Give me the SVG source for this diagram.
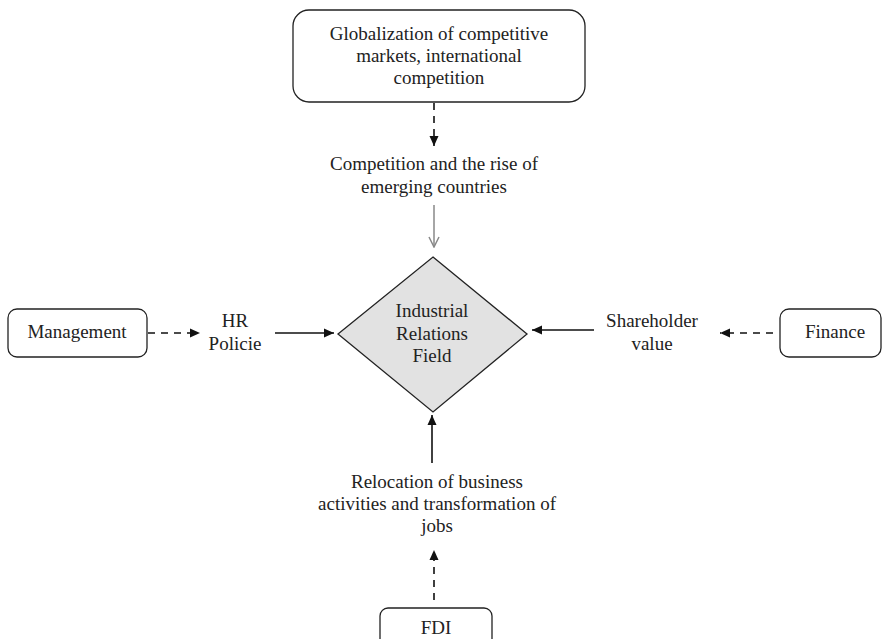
<svg xmlns="http://www.w3.org/2000/svg" width="884" height="639" viewBox="0 0 884 639">
<style>
text{font-family:"Liberation Serif","Times New Roman",serif;font-size:19px;fill:#222;text-anchor:middle}
.box{fill:#fff;stroke:#222;stroke-width:1.3}
.solid{stroke:#111;stroke-width:1.6;fill:none}
.dash{stroke:#111;stroke-width:1.6;fill:none;stroke-dasharray:7,6}
.gray{stroke:#888;stroke-width:1.5;fill:none}
</style>
<defs>
<marker id="ah" viewBox="0 0 10 10" refX="10" refY="5" markerWidth="10" markerHeight="10" markerUnits="userSpaceOnUse" orient="auto">
<path d="M0,0.5 L10,5 L0,9.5 Z" fill="#111"/>
</marker>
<marker id="av" viewBox="0 0 12 12" refX="11" refY="6" markerWidth="12" markerHeight="12" markerUnits="userSpaceOnUse" orient="auto">
<path d="M1,1 L11,6 L1,11" fill="none" stroke="#888" stroke-width="1.5"/>
</marker>
</defs>
<g id="globalization">
<rect class="box" x="293" y="10" width="292" height="92" rx="16"/>
<text x="439" y="40">Globalization of competitive</text>
<text x="439" y="62">markets, international</text>
<text x="439" y="84">competition</text>
</g>
<g id="competition">
<text x="434" y="170">Competition and the rise of</text>
<text x="434" y="193">emerging countries</text>
</g>
<g id="irfield">
<polygon points="433,257 527,334 433,412 338,334" fill="#e2e2e2" stroke="#222" stroke-width="1.3"/>
<text x="432" y="317">Industrial</text>
<text x="432" y="340">Relations</text>
<text x="432" y="362">Field</text>
</g>
<g id="management">
<rect class="box" x="8" y="309" width="139" height="48" rx="9"/>
<text x="77" y="338">Management</text>
</g>
<g id="hrpolicie">
<text x="235" y="327">HR</text>
<text x="235" y="350">Policie</text>
</g>
<g id="shareholder">
<text x="652" y="327">Shareholder</text>
<text x="652" y="350">value</text>
</g>
<g id="finance">
<rect class="box" x="780" y="309" width="101" height="48" rx="9"/>
<text x="835" y="338">Finance</text>
</g>
<g id="relocation">
<text x="437" y="488">Relocation of business</text>
<text x="437" y="510">activities and transformation of</text>
<text x="437" y="532">jobs</text>
</g>
<g id="fdi">
<rect class="box" x="380" y="608" width="112" height="40" rx="8"/>
<text x="436" y="634">FDI</text>
</g>
<g id="connectors">
<line class="dash" x1="434" y1="103" x2="434" y2="146" marker-end="url(#ah)"/>
<line class="gray" x1="434" y1="205" x2="434" y2="247" marker-end="url(#av)"/>
<line class="dash" x1="148" y1="333" x2="200" y2="333" marker-end="url(#ah)"/>
<line class="solid" x1="275" y1="333" x2="334" y2="333" marker-end="url(#ah)"/>
<line class="solid" x1="594" y1="330" x2="532" y2="330" marker-end="url(#ah)"/>
<line class="dash" x1="773" y1="333" x2="720" y2="333" marker-end="url(#ah)"/>
<line class="solid" x1="432" y1="463" x2="432" y2="415" marker-end="url(#ah)"/>
<line class="dash" x1="434" y1="600" x2="434" y2="550" marker-end="url(#ah)"/>
</g>
</svg>
